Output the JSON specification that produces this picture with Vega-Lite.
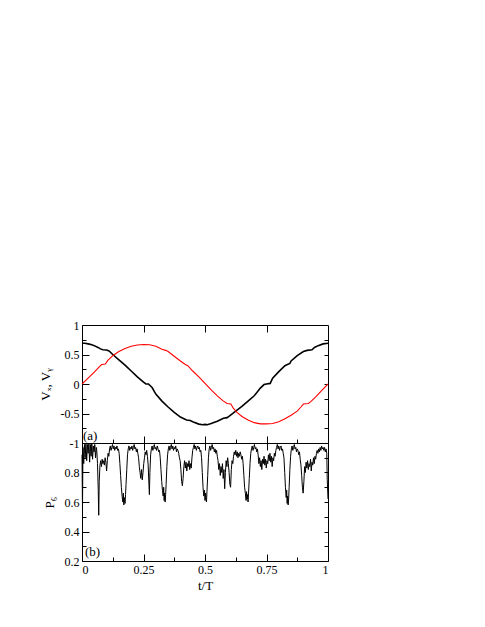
{
 "$schema": "https://vega.github.io/schema/vega-lite/v6.json",
 "background": "white",
 "padding": {"left": 38, "top": 318, "right": 5, "bottom": 5},
 "autosize": {"type": "pad"},
 "config": {
  "font": "Liberation Serif, Times New Roman, serif",
  "view": {"stroke": "black", "strokeWidth": 1},
  "axis": {"grid": false, "domain": false, "tickColor": "black", "tickWidth": 1, "labelColor": "black", "labelFont": "Liberation Serif, Times New Roman, serif", "labelFontSize": 12, "titleFont": "Liberation Serif, Times New Roman, serif", "titleFontSize": 13, "titleFontWeight": "normal", "titleColor": "black"},
  "text": {"font": "Liberation Serif, Times New Roman, serif"}
 },
 "spacing": 0,
 "bounds": "flush",
 "vconcat": [
  {
   "width": 246, "height": 118,
   "layer": [
    {
     "data": {"values": [
      {"t":0,"v":0.69},{"t":0.012,"v":0.69},{"t":0.025,"v":0.68},{"t":0.04,"v":0.665},{"t":0.05,"v":0.65},{"t":0.065,"v":0.62},{"t":0.075,"v":0.595},{"t":0.085,"v":0.58},{"t":0.1,"v":0.575},{"t":0.11,"v":0.56},{"t":0.125,"v":0.5},{"t":0.15,"v":0.41},{"t":0.175,"v":0.32},{"t":0.2,"v":0.22},{"t":0.225,"v":0.12},{"t":0.25,"v":0.03},{"t":0.26,"v":0.0},{"t":0.27,"v":0.0},{"t":0.285,"v":-0.06},{"t":0.3,"v":-0.17},{"t":0.325,"v":-0.29},{"t":0.35,"v":-0.39},{"t":0.375,"v":-0.48},{"t":0.4,"v":-0.56},{"t":0.425,"v":-0.61},{"t":0.44,"v":-0.62},{"t":0.45,"v":-0.64},{"t":0.475,"v":-0.68},{"t":0.49,"v":-0.69},{"t":0.5,"v":-0.685},{"t":0.51,"v":-0.69},{"t":0.525,"v":-0.67},{"t":0.55,"v":-0.63},{"t":0.575,"v":-0.58},{"t":0.59,"v":-0.57},{"t":0.6,"v":-0.54},{"t":0.625,"v":-0.46},{"t":0.65,"v":-0.38},{"t":0.675,"v":-0.29},{"t":0.7,"v":-0.2},{"t":0.71,"v":-0.15},{"t":0.725,"v":-0.07},{"t":0.74,"v":-0.01},{"t":0.75,"v":0.0},{"t":0.765,"v":0.01},{"t":0.775,"v":0.1},{"t":0.8,"v":0.21},{"t":0.825,"v":0.31},{"t":0.835,"v":0.33},{"t":0.845,"v":0.35},{"t":0.85,"v":0.39},{"t":0.875,"v":0.48},{"t":0.9,"v":0.55},{"t":0.915,"v":0.57},{"t":0.935,"v":0.58},{"t":0.945,"v":0.62},{"t":0.96,"v":0.65},{"t":0.98,"v":0.68},{"t":1,"v":0.69}
     ]},
     "mark": {"type": "line", "color": "black", "strokeWidth": 1.6},
     "encoding": {
      "x": {"field": "t", "type": "quantitative", "scale": {"domain": [0, 1], "nice": false},
       "axis": {"orient": "bottom", "title": null, "labels": false, "values": [0,0.125,0.25,0.375,0.5,0.625,0.75,0.875,1],
        "tickSize": {"condition": {"test": "abs(datum.value*4 - round(datum.value*4)) < 0.001", "value": -7}, "value": -4}}},
      "y": {"field": "v", "type": "quantitative", "scale": {"domain": [-1, 1], "nice": false},
       "axis": {"orient": "left", "title": "Vₓ, Vᵧ", "titlePadding": 8, "values": [-1,-0.75,-0.5,-0.25,0,0.25,0.5,0.75,1],
        "labelExpr": "abs(datum.value*2 - round(datum.value*2)) < 0.001 ? datum.value + '' : ''",
        "labelPadding": {"condition": {"test": "abs(datum.value*2 - round(datum.value*2)) < 0.001", "value": 10}, "value": 7},
        "tickSize": {"condition": {"test": "abs(datum.value*2 - round(datum.value*2)) < 0.001", "value": -7}, "value": -4}}}
     }
    },
    {
     "data": {"values": [
      {"t":0,"v":0.0},{"t":0.025,"v":0.1},{"t":0.05,"v":0.2},{"t":0.07,"v":0.29},{"t":0.08,"v":0.33},{"t":0.095,"v":0.34},{"t":0.105,"v":0.4},{"t":0.125,"v":0.48},{"t":0.15,"v":0.55},{"t":0.175,"v":0.6},{"t":0.2,"v":0.64},{"t":0.225,"v":0.66},{"t":0.25,"v":0.67},{"t":0.275,"v":0.665},{"t":0.3,"v":0.64},{"t":0.325,"v":0.59},{"t":0.34,"v":0.57},{"t":0.35,"v":0.55},{"t":0.375,"v":0.47},{"t":0.4,"v":0.39},{"t":0.42,"v":0.33},{"t":0.43,"v":0.31},{"t":0.45,"v":0.22},{"t":0.475,"v":0.12},{"t":0.5,"v":0.01},{"t":0.525,"v":-0.1},{"t":0.55,"v":-0.2},{"t":0.575,"v":-0.29},{"t":0.59,"v":-0.33},{"t":0.605,"v":-0.34},{"t":0.615,"v":-0.41},{"t":0.63,"v":-0.48},{"t":0.65,"v":-0.55},{"t":0.675,"v":-0.61},{"t":0.7,"v":-0.655},{"t":0.725,"v":-0.675},{"t":0.75,"v":-0.675},{"t":0.775,"v":-0.67},{"t":0.8,"v":-0.64},{"t":0.825,"v":-0.59},{"t":0.85,"v":-0.53},{"t":0.875,"v":-0.46},{"t":0.89,"v":-0.39},{"t":0.9,"v":-0.34},{"t":0.92,"v":-0.33},{"t":0.93,"v":-0.3},{"t":0.95,"v":-0.22},{"t":0.975,"v":-0.11},{"t":1,"v":0.0}
     ]},
     "mark": {"type": "line", "color": "#ff0000", "strokeWidth": 1.1},
     "encoding": {
      "x": {"field": "t", "type": "quantitative", "scale": {"domain": [0, 1], "nice": false},
       "axis": {"orient": "top", "title": null, "labels": false, "values": [0.25,0.5,0.75], "tickSize": -7}},
      "y": {"field": "v", "type": "quantitative", "scale": {"domain": [-1, 1], "nice": false},
       "axis": {"orient": "right", "title": null, "labels": false, "values": [-0.75,-0.5,-0.25,0,0.25,0.5,0.75], "tickSize": -4}}
     }
    },
    {
     "data": {"values": [{"t": 0.004, "v": -0.95, "label": "(a)"}]},
     "mark": {"type": "text", "align": "left", "baseline": "alphabetic", "fontSize": 13, "color": "black"},
     "encoding": {
      "x": {"field": "t", "type": "quantitative", "axis": null},
      "y": {"field": "v", "type": "quantitative", "axis": null},
      "text": {"field": "label"}
     }
    }
   ],
   "resolve": {"axis": {"x": "independent", "y": "independent"}}
  },
  {
   "width": 246, "height": 118,
   "layer": [
    {
     "data": {"values": [
      {"t":0.000,"p":0.92},{"t":0.002,"p":0.55},{"t":0.004,"p":0.97},{"t":0.007,"p":0.86},{"t":0.010,"p":0.99},{"t":0.013,"p":0.90},{"t":0.016,"p":1.0},{"t":0.019,"p":0.88},{"t":0.022,"p":0.99},{"t":0.025,"p":0.93},{"t":0.028,"p":1.0},{"t":0.031,"p":0.87},{"t":0.034,"p":0.99},{"t":0.037,"p":0.91},{"t":0.040,"p":1.0},{"t":0.043,"p":0.89},{"t":0.046,"p":0.98},{"t":0.049,"p":0.94},{"t":0.052,"p":0.99},{"t":0.055,"p":0.90},{"t":0.058,"p":0.97},
      {"t":0.060,"p":0.95},{"t":0.063,"p":0.86},{"t":0.066,"p":0.68},{"t":0.068,"p":0.51},{"t":0.070,"p":0.74},{"t":0.073,"p":0.85},{"t":0.076,"p":0.88},{"t":0.079,"p":0.84},{"t":0.082,"p":0.89},{"t":0.085,"p":0.86},{"t":0.088,"p":0.88},{"t":0.091,"p":0.85},{"t":0.094,"p":0.90},{"t":0.097,"p":0.87},{"t":0.100,"p":0.81},{"t":0.103,"p":0.88},{"t":0.106,"p":0.93},{"t":0.109,"p":0.91},{"t":0.112,"p":0.96},
      {"t":0.115,"p":0.98},{"t":0.118,"p":0.95},{"t":0.121,"p":0.97},{"t":0.124,"p":0.99},{"t":0.127,"p":0.96},{"t":0.130,"p":0.98},{"t":0.133,"p":0.95},{"t":0.136,"p":0.97},{"t":0.139,"p":0.96},{"t":0.142,"p":0.98},{"t":0.145,"p":0.95},{"t":0.148,"p":0.96},{"t":0.151,"p":0.93},
      {"t":0.154,"p":0.86},{"t":0.157,"p":0.78},{"t":0.160,"p":0.70},{"t":0.163,"p":0.64},{"t":0.166,"p":0.60},{"t":0.168,"p":0.66},{"t":0.170,"p":0.58},{"t":0.172,"p":0.63},{"t":0.175,"p":0.59},{"t":0.177,"p":0.65},{"t":0.179,"p":0.72},{"t":0.182,"p":0.82},{"t":0.185,"p":0.92},
      {"t":0.188,"p":0.96},{"t":0.191,"p":0.98},{"t":0.194,"p":0.95},{"t":0.197,"p":0.97},{"t":0.200,"p":0.96},{"t":0.203,"p":0.98},{"t":0.206,"p":0.95},{"t":0.209,"p":0.97},{"t":0.212,"p":0.99},{"t":0.215,"p":0.96},{"t":0.218,"p":0.97},{"t":0.221,"p":0.94},{"t":0.224,"p":0.96},{"t":0.227,"p":0.93},{"t":0.230,"p":0.90},
      {"t":0.233,"p":0.84},{"t":0.236,"p":0.80},{"t":0.239,"p":0.76},{"t":0.242,"p":0.82},{"t":0.245,"p":0.75},{"t":0.248,"p":0.80},{"t":0.251,"p":0.86},{"t":0.254,"p":0.90},
      {"t":0.257,"p":0.94},{"t":0.260,"p":0.92},{"t":0.263,"p":0.95},{"t":0.266,"p":0.91},{"t":0.269,"p":0.85},{"t":0.272,"p":0.72},{"t":0.274,"p":0.65},{"t":0.276,"p":0.80},{"t":0.279,"p":0.92},
      {"t":0.282,"p":0.96},{"t":0.285,"p":0.98},{"t":0.288,"p":0.95},{"t":0.291,"p":0.97},{"t":0.294,"p":0.99},{"t":0.297,"p":0.96},{"t":0.300,"p":0.97},{"t":0.303,"p":0.95},{"t":0.306,"p":0.98},{"t":0.309,"p":0.96},{"t":0.312,"p":0.94},{"t":0.315,"p":0.95},{"t":0.318,"p":0.90},
      {"t":0.321,"p":0.82},{"t":0.324,"p":0.74},{"t":0.327,"p":0.68},{"t":0.330,"p":0.64},{"t":0.332,"p":0.70},{"t":0.334,"p":0.61},{"t":0.336,"p":0.66},{"t":0.338,"p":0.60},{"t":0.340,"p":0.65},{"t":0.342,"p":0.72},{"t":0.345,"p":0.84},{"t":0.348,"p":0.92},
      {"t":0.351,"p":0.96},{"t":0.354,"p":0.98},{"t":0.357,"p":0.95},{"t":0.360,"p":0.97},{"t":0.363,"p":0.99},{"t":0.366,"p":0.96},{"t":0.369,"p":0.98},{"t":0.372,"p":0.95},{"t":0.375,"p":0.97},{"t":0.378,"p":0.96},{"t":0.381,"p":0.98},{"t":0.384,"p":0.94},{"t":0.387,"p":0.96},{"t":0.390,"p":0.95},{"t":0.393,"p":0.93},{"t":0.396,"p":0.90},{"t":0.399,"p":0.88},
      {"t":0.402,"p":0.82},{"t":0.405,"p":0.74},{"t":0.408,"p":0.71},{"t":0.411,"p":0.76},{"t":0.414,"p":0.84},{"t":0.417,"p":0.88},{"t":0.420,"p":0.83},{"t":0.423,"p":0.87},{"t":0.426,"p":0.81},{"t":0.429,"p":0.86},{"t":0.432,"p":0.84},{"t":0.435,"p":0.88},{"t":0.438,"p":0.82},{"t":0.441,"p":0.86},{"t":0.444,"p":0.83},{"t":0.447,"p":0.90},
      {"t":0.450,"p":0.95},{"t":0.453,"p":0.97},{"t":0.456,"p":0.99},{"t":0.459,"p":0.96},{"t":0.462,"p":0.98},{"t":0.465,"p":0.95},{"t":0.468,"p":0.97},{"t":0.471,"p":0.98},{"t":0.474,"p":0.96},{"t":0.477,"p":0.97},{"t":0.480,"p":0.94},{"t":0.483,"p":0.95},{"t":0.486,"p":0.90},
      {"t":0.489,"p":0.80},{"t":0.492,"p":0.70},{"t":0.495,"p":0.64},{"t":0.498,"p":0.68},{"t":0.500,"p":0.61},{"t":0.502,"p":0.66},{"t":0.504,"p":0.62},{"t":0.506,"p":0.60},{"t":0.508,"p":0.67},{"t":0.511,"p":0.78},{"t":0.514,"p":0.90},
      {"t":0.517,"p":0.96},{"t":0.520,"p":0.98},{"t":0.523,"p":0.95},{"t":0.526,"p":0.97},{"t":0.529,"p":0.99},{"t":0.532,"p":0.96},{"t":0.535,"p":0.97},{"t":0.538,"p":0.94},{"t":0.541,"p":0.96},{"t":0.544,"p":0.93},{"t":0.547,"p":0.95},{"t":0.550,"p":0.91},{"t":0.553,"p":0.88},
      {"t":0.556,"p":0.82},{"t":0.559,"p":0.86},{"t":0.562,"p":0.78},{"t":0.565,"p":0.84},{"t":0.568,"p":0.80},{"t":0.571,"p":0.86},{"t":0.574,"p":0.76},{"t":0.577,"p":0.82},{"t":0.580,"p":0.69},{"t":0.583,"p":0.80},{"t":0.586,"p":0.88},{"t":0.589,"p":0.84},{"t":0.592,"p":0.90},{"t":0.595,"p":0.86},{"t":0.598,"p":0.80},{"t":0.601,"p":0.72},{"t":0.604,"p":0.70},{"t":0.607,"p":0.82},{"t":0.610,"p":0.88},{"t":0.613,"p":0.86},
      {"t":0.616,"p":0.91},{"t":0.619,"p":0.94},{"t":0.622,"p":0.92},{"t":0.625,"p":0.95},{"t":0.628,"p":0.91},{"t":0.631,"p":0.94},{"t":0.634,"p":0.90},{"t":0.637,"p":0.93},{"t":0.640,"p":0.91},{"t":0.643,"p":0.94},{"t":0.646,"p":0.92},{"t":0.649,"p":0.89},{"t":0.652,"p":0.91},{"t":0.655,"p":0.86},
      {"t":0.658,"p":0.78},{"t":0.661,"p":0.70},{"t":0.664,"p":0.66},{"t":0.667,"p":0.61},{"t":0.669,"p":0.67},{"t":0.671,"p":0.62},{"t":0.673,"p":0.65},{"t":0.675,"p":0.60},{"t":0.677,"p":0.66},{"t":0.680,"p":0.76},{"t":0.683,"p":0.86},{"t":0.686,"p":0.93},
      {"t":0.689,"p":0.96},{"t":0.692,"p":0.98},{"t":0.695,"p":0.95},{"t":0.698,"p":0.97},{"t":0.701,"p":0.99},{"t":0.704,"p":0.96},{"t":0.707,"p":0.97},{"t":0.710,"p":0.94},{"t":0.713,"p":0.96},{"t":0.716,"p":0.92},
      {"t":0.719,"p":0.86},{"t":0.722,"p":0.90},{"t":0.725,"p":0.84},{"t":0.728,"p":0.88},{"t":0.731,"p":0.82},{"t":0.734,"p":0.89},{"t":0.737,"p":0.86},{"t":0.740,"p":0.91},{"t":0.743,"p":0.85},{"t":0.746,"p":0.89},{"t":0.749,"p":0.83},{"t":0.752,"p":0.88},{"t":0.755,"p":0.86},{"t":0.758,"p":0.92},{"t":0.761,"p":0.88},{"t":0.764,"p":0.93},{"t":0.767,"p":0.87},{"t":0.770,"p":0.91},{"t":0.773,"p":0.84},{"t":0.776,"p":0.90},{"t":0.779,"p":0.88},{"t":0.782,"p":0.93},{"t":0.785,"p":0.91},{"t":0.788,"p":0.95},
      {"t":0.791,"p":0.97},{"t":0.794,"p":0.99},{"t":0.797,"p":0.96},{"t":0.800,"p":0.98},{"t":0.803,"p":0.95},{"t":0.806,"p":0.97},{"t":0.809,"p":0.98},{"t":0.812,"p":0.95},{"t":0.815,"p":0.96},{"t":0.818,"p":0.93},{"t":0.821,"p":0.90},
      {"t":0.824,"p":0.80},{"t":0.827,"p":0.70},{"t":0.830,"p":0.63},{"t":0.832,"p":0.68},{"t":0.834,"p":0.59},{"t":0.836,"p":0.64},{"t":0.838,"p":0.58},{"t":0.840,"p":0.62},{"t":0.842,"p":0.70},{"t":0.845,"p":0.82},{"t":0.848,"p":0.91},
      {"t":0.851,"p":0.96},{"t":0.854,"p":0.98},{"t":0.857,"p":0.95},{"t":0.860,"p":0.97},{"t":0.863,"p":0.99},{"t":0.866,"p":0.96},{"t":0.869,"p":0.97},{"t":0.872,"p":0.94},{"t":0.875,"p":0.96},{"t":0.878,"p":0.95},{"t":0.881,"p":0.92},{"t":0.884,"p":0.94},{"t":0.887,"p":0.89},{"t":0.890,"p":0.85},
      {"t":0.893,"p":0.78},{"t":0.896,"p":0.70},{"t":0.899,"p":0.66},{"t":0.902,"p":0.74},{"t":0.905,"p":0.84},{"t":0.908,"p":0.80},{"t":0.911,"p":0.87},{"t":0.914,"p":0.83},{"t":0.917,"p":0.88},{"t":0.920,"p":0.82},{"t":0.923,"p":0.86},{"t":0.926,"p":0.84},{"t":0.929,"p":0.89},{"t":0.932,"p":0.81},{"t":0.935,"p":0.87},{"t":0.938,"p":0.85},{"t":0.941,"p":0.90},{"t":0.944,"p":0.86},{"t":0.947,"p":0.91},{"t":0.950,"p":0.89},{"t":0.953,"p":0.93},
      {"t":0.956,"p":0.95},{"t":0.959,"p":0.93},{"t":0.962,"p":0.96},{"t":0.965,"p":0.94},{"t":0.968,"p":0.97},{"t":0.971,"p":0.95},{"t":0.974,"p":0.98},{"t":0.977,"p":0.96},{"t":0.980,"p":0.97},{"t":0.983,"p":0.95},{"t":0.986,"p":0.97},{"t":0.989,"p":0.94},{"t":0.992,"p":0.96},{"t":0.995,"p":0.93},{"t":0.997,"p":0.75},{"t":1.0,"p":0.62}
     ]},
     "mark": {"type": "line", "color": "black", "strokeWidth": 1},
     "encoding": {
      "x": {"field": "t", "type": "quantitative", "scale": {"domain": [0, 1], "nice": false},
       "axis": {"orient": "bottom", "title": "t/T", "titlePadding": 4, "values": [0,0.125,0.25,0.375,0.5,0.625,0.75,0.875,1],
        "labelExpr": "abs(datum.value*4 - round(datum.value*4)) < 0.001 ? datum.value + '' : ''",
        "labelPadding": {"condition": {"test": "abs(datum.value*4 - round(datum.value*4)) < 0.001", "value": 10}, "value": 7},
        "tickSize": {"condition": {"test": "abs(datum.value*4 - round(datum.value*4)) < 0.001", "value": -7}, "value": -4}}},
      "y": {"field": "p", "type": "quantitative", "scale": {"domain": [0.2, 1], "nice": false},
       "axis": {"orient": "left", "title": "P₆", "titlePadding": 8, "values": [0.2,0.3,0.4,0.5,0.6,0.7,0.8,0.9,1],
        "labelExpr": "(abs(datum.value*5 - round(datum.value*5)) < 0.001 && datum.value < 0.99) ? datum.value + '' : ''",
        "labelPadding": {"condition": {"test": "abs(datum.value*5 - round(datum.value*5)) < 0.001", "value": 10}, "value": 7},
        "tickSize": {"condition": {"test": "abs(datum.value*5 - round(datum.value*5)) < 0.001", "value": -7}, "value": -4}}}
     }
    },
    {
     "data": {"values": [{"t": 0.012, "p": 0.235, "label": "(b)"}]},
     "mark": {"type": "text", "align": "left", "baseline": "alphabetic", "fontSize": 13, "color": "black"},
     "encoding": {
      "x": {"field": "t", "type": "quantitative", "scale": {"domain": [0, 1], "nice": false},
       "axis": {"orient": "top", "title": null, "labels": false, "values": [0.25,0.5,0.75], "tickSize": -7}},
      "y": {"field": "p", "type": "quantitative", "scale": {"domain": [0.2, 1], "nice": false},
       "axis": {"orient": "right", "title": null, "labels": false, "values": [0.3,0.4,0.5,0.6,0.7,0.8,0.9], "tickSize": -4}},
      "text": {"field": "label"}
     }
    }
   ],
   "resolve": {"axis": {"x": "independent", "y": "independent"}}
  }
 ]
}
